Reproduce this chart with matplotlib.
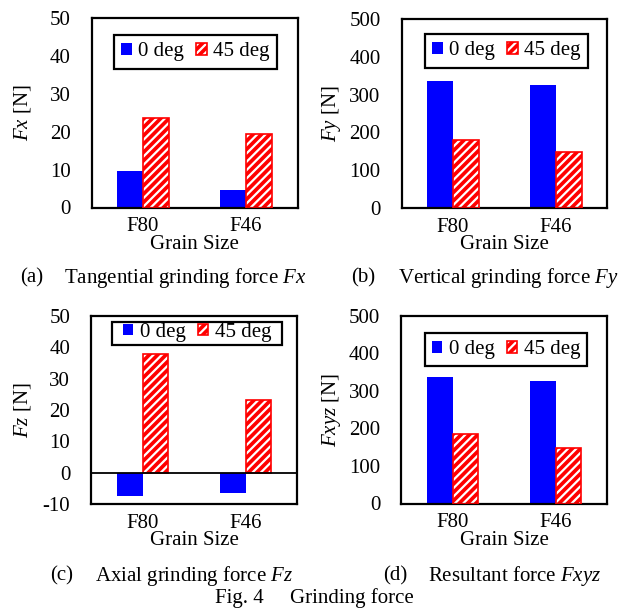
import matplotlib
matplotlib.use("Agg")
import matplotlib.pyplot as plt
import numpy as np
from matplotlib.patches import Patch, Rectangle
from matplotlib.legend_handler import HandlerTuple

plt.rcParams['font.family'] = ['Liberation Serif', 'DejaVu Serif']
plt.rcParams['mathtext.fontset'] = 'custom'
plt.rcParams['mathtext.rm'] = 'Liberation Serif'
plt.rcParams['mathtext.it'] = 'Liberation Serif:italic'
plt.rcParams['axes.unicode_minus'] = False
plt.rcParams['hatch.linewidth'] = 1.6

categories = ["F80", "F46"]
series_names = ["0 deg", "45 deg"]

fx_0 = [9.7, 4.5]
fx_45 = [23.5, 19.3]
fy_0 = [335, 326]
fy_45 = [180, 147]
fz_0 = [-7.5, -6.6]
fz_45 = [37.9, 23.1]
fxyz_0 = [337, 327]
fxyz_45 = [186, 149]

y_labels = [r"$\mathit{Fx}$ [N]", r"$\mathit{Fy}$ [N]", r"$\mathit{Fz}$ [N]", r"$\mathit{Fxyz}$ [N]"]
y_ticks = [[0, 10, 20, 30, 40, 50], [0, 100, 200, 300, 400, 500],
           [-10, 0, 10, 20, 30, 40, 50], [0, 100, 200, 300, 400, 500]]
captions = [("(a)", r"Tangential grinding force $\mathit{Fx}$"),
            ("(b)", r"Vertical grinding force $\mathit{Fy}$"),
            ("(c)", r"Axial grinding force $\mathit{Fz}$"),
            ("(d)", r"Resultant force $\mathit{Fxyz}$")]
fig_caption = ("Fig. 4", "Grinding force")

W, H = 630, 610
fig = plt.figure(figsize=(6.3, 6.1), dpi=100)

def px_axes(l, t, r, b):
    return fig.add_axes([l / W, 1 - b / H, (r - l) / W, (b - t) / H])

boxes = [(91.5, 18, 297.5, 207.5), (401.5, 19, 607.5, 208),
         (91, 316, 297, 504), (401, 316, 607, 503.5)]
data = [(fx_0, fx_45), (fy_0, fy_45), (fz_0, fz_45), (fxyz_0, fxyz_45)]
leg_pos = [(0.505, 0.91, 0.35), (0.51, 0.92, 0.35), (0.515, 0.972, 0.08), (0.51, 0.91, 0.35)]

FS = 15
x = np.arange(len(categories))
w = 0.25
for i, (box, (s0, s45)) in enumerate(zip(boxes, data)):
    ax = px_axes(*box)
    ax.bar(x - w / 2, s0, width=w, color="blue", edgecolor="none", zorder=2)
    ax.bar(x + w / 2, s45, width=w, facecolor="red", edgecolor="white", hatch="////",
           linewidth=0, zorder=2)
    ax.bar(x + w / 2, s45, width=w, fill=False, edgecolor="red", linewidth=1.2, zorder=3)
    yt = y_ticks[i]
    ax.set_ylim(yt[0], yt[-1])
    ax.set_yticks(yt)
    ax.set_xlim(-0.5, 1.5)
    ax.set_xticks(x)
    ax.set_xticklabels(categories)
    ax.tick_params(axis='both', length=0, labelsize=FS)
    ax.tick_params(axis='y', pad=15)
    ax.tick_params(axis='x', pad=7)
    for sp in ax.spines.values():
        sp.set_linewidth(1.6)
        sp.set_color("black")
    if yt[0] < 0:
        ax.axhline(0, color="black", linewidth=1.3, zorder=4)
    ax.set_xlabel("Grain Size", fontsize=FS, labelpad=-1)
    ax.set_ylabel(y_labels[i], fontsize=FS)
    ax.yaxis.set_label_coords(-0.283, 0.5)

    h0 = Patch(facecolor="blue", edgecolor="none")
    h1 = (Patch(facecolor="red", edgecolor="white", hatch="////", linewidth=0),
          Patch(fill=False, edgecolor="red", linewidth=1.2))
    lx, ly, bp = leg_pos[i]
    compact = bp < 0.2
    leg = ax.legend([h0, h1], series_names, loc="upper center", bbox_to_anchor=(lx, ly),
                    ncol=2, fontsize=FS, frameon=not compact, fancybox=False, borderpad=bp,
                    handlelength=0.5, handleheight=0.5, handletextpad=0.3,
                    columnspacing=0.6, borderaxespad=0,
                    handler_map={tuple: HandlerTuple(ndivide=1)})
    leg.set_zorder(6)
    if compact:
        ax.add_patch(Rectangle((0.103, 0.846), 0.825, 0.122, transform=ax.transAxes,
                               facecolor="white", edgecolor="black", linewidth=1.6,
                               zorder=5))
    else:
        fr = leg.get_frame()
        fr.set_edgecolor("black")
        fr.set_linewidth(1.6)
        fr.set_alpha(1)

cap_pos = [(20, 64, 278), (351, 398, 278), (50, 95, 576), (383, 428, 576)]
for (lab, txt), (x1, x2, yc) in zip(captions, cap_pos):
    fig.text(x1 / W, 1 - yc / H, lab, fontsize=FS, va="center", ha="left")
    fig.text(x2 / W, 1 - yc / H, txt, fontsize=FS, va="center", ha="left")

fig.text(215 / W, 1 - 598 / H, fig_caption[0], fontsize=FS, va="center", ha="left")
fig.text(290 / W, 1 - 598 / H, fig_caption[1], fontsize=FS, va="center", ha="left")

fig.savefig("out.png", dpi=100)
